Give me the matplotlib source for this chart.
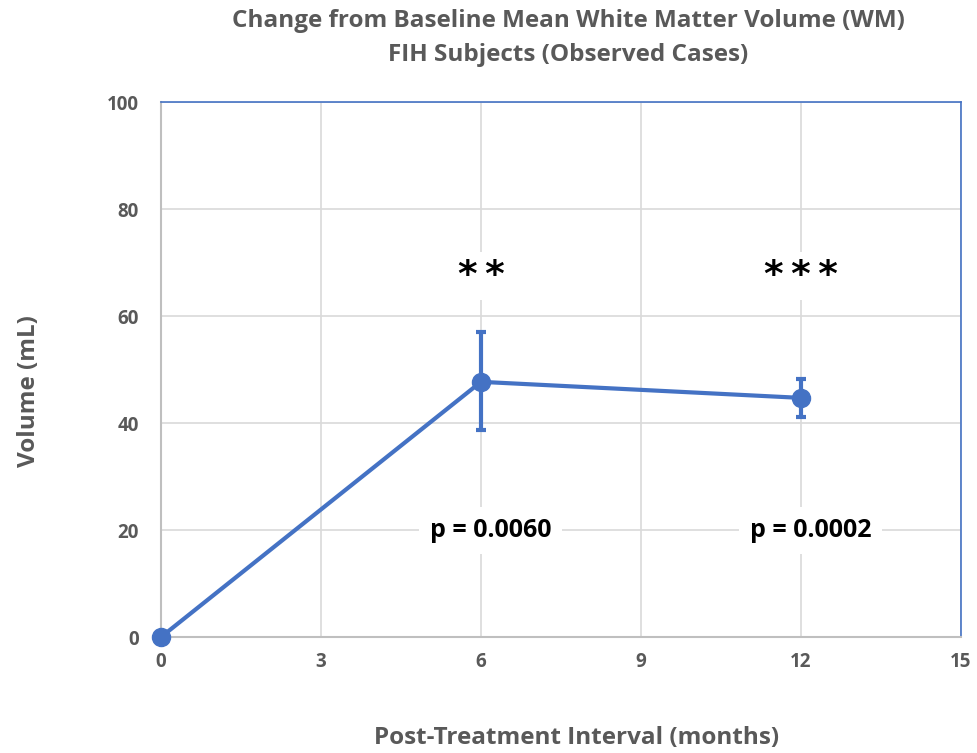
import numpy as np
import matplotlib.pyplot as plt

months = [0, 6, 12]
volume = [0, 47.7, 44.7]
err_low = [0, 9.0, 3.6]
err_high = [0, 9.3, 3.5]
stars = ["", "*\u2009*", "*\u2009*\u2009*"]
pvals = ["", "p = 0.0060", "p = 0.0002"]

blue = "#4472C4"
grey = "#595959"
plt.rcParams['font.family'] = ['Open Sans', 'DejaVu Sans']

fig = plt.figure(figsize=(9.77, 7.53), dpi=100)
ax = fig.add_axes([0.1648, 0.154, 0.8188, 0.7105])

ax.errorbar(months, volume, yerr=[err_low, err_high], color=blue, lw=3,
            marker="o", ms=13, elinewidth=3, capsize=3.5, capthick=3, zorder=3,
            clip_on=False)

for x, s in zip(months, stars):
    if s:
        ax.text(x, 67.5, s, ha="center", va="center", fontsize=27, fontweight="bold",
                color="black", family="DejaVu Sans",
                bbox=dict(facecolor="white", edgecolor="none", pad=4))
for x, p in zip(months, pvals):
    if p:
        ax.annotate(p, (x, 20), xytext=(7, 0), textcoords="offset points",
                    ha="center", va="center", fontsize=18, fontweight="bold",
                    color="black", bbox=dict(facecolor="white", edgecolor="none", pad=8))

ax.set_xlim(0, 15)
ax.set_ylim(0, 100)
ax.set_xticks([0, 3, 6, 9, 12, 15])
ax.set_yticks([0, 20, 40, 60, 80, 100])
ax.grid(True, color="#d9d9d9", lw=1.2, zorder=0)
ax.set_axisbelow(True)
ax.tick_params(length=0, labelsize=13.5, labelcolor=grey)
ax.tick_params(axis="y", pad=16)
ax.tick_params(axis="x", pad=11)
for lab in ax.get_xticklabels() + ax.get_yticklabels():
    lab.set_fontweight("bold")
for side in ["top", "right"]:
    ax.spines[side].set_color(blue)
    ax.spines[side].set_linewidth(1.2)
for side in ["left", "bottom"]:
    ax.spines[side].set_color("#bfbfbf")
    ax.spines[side].set_linewidth(1.5)

ax.set_xlabel("Post-Treatment Interval (months)", fontsize=17.5, fontweight="bold",
              color=grey)
ax.xaxis.set_label_coords(0.519, -0.166)
ax.set_ylabel("Volume (mL)", fontsize=17.5, fontweight="bold", color=grey)
ax.yaxis.set_label_coords(-0.15, 0.46)
fig.suptitle("Change from Baseline Mean White Matter Volume (WM)\nFIH Subjects (Observed Cases)",
             x=0.582, y=0.988, fontsize=17.5, fontweight="bold", color=grey, linespacing=1.55)

fig.savefig("out.png", dpi=100)
